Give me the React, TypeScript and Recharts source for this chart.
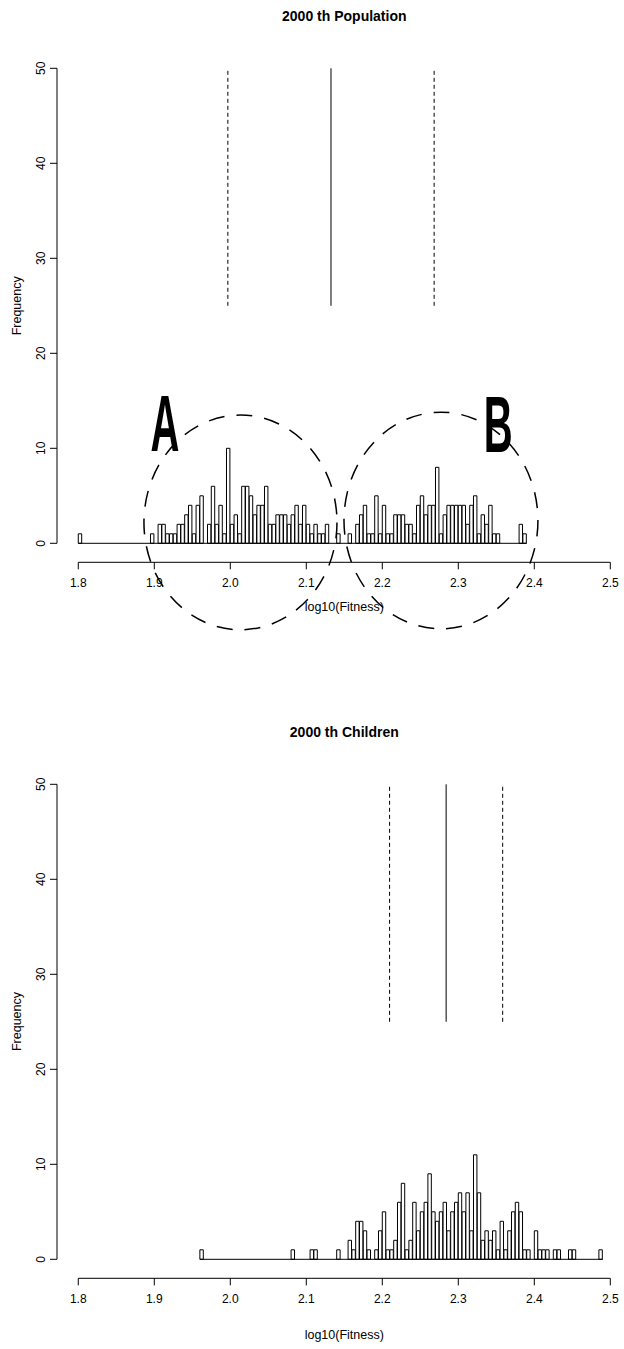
import React from "react";
import { ComposedChart, Bar, XAxis, YAxis, ReferenceLine } from "recharts";

// histogram bins, width 0.005
const binWidth = 0.005;

const popStart = 1.8;
const popCounts = [
  1, 0, 0, 0, 0, 0, 0, 0, 0, 0,
  0, 0, 0, 0, 0, 0, 0, 0, 0, 1,
  0, 2, 2, 1, 1, 1, 2, 2, 3, 4,
  1, 4, 5, 0, 2, 6, 2, 4, 1, 10,
  2, 3, 1, 6, 6, 5, 3, 4, 4, 6,
  2, 2, 3, 3, 3, 2, 3, 4, 2, 4,
  2, 1, 2, 1, 1, 2, 0, 0, 1, 0,
  0, 1, 0, 2, 3, 4, 1, 1, 5, 1,
  4, 1, 1, 3, 3, 3, 2, 2, 1, 4,
  5, 3, 4, 4, 8, 1, 3, 4, 4, 4,
  4, 4, 2, 4, 5, 1, 3, 2, 4, 1,
  1, 0, 0, 0, 0, 0, 2, 1,
];

const childStart = 1.96;
const childCounts = [
  1, 0, 0, 0, 0, 0, 0, 0, 0, 0,
  0, 0, 0, 0, 0, 0, 0, 0, 0, 0,
  0, 0, 0, 0, 1, 0, 0, 0, 0, 1,
  1, 0, 0, 0, 0, 0, 1, 0, 0, 2,
  1, 4, 4, 3, 1, 0, 1, 3, 5, 1,
  1, 2, 6, 8, 1, 2, 6, 3, 5, 6,
  9, 5, 4, 5, 6, 3, 5, 6, 7, 5,
  7, 3, 11, 7, 2, 3, 2, 3, 1, 4,
  1, 3, 5, 6, 5, 1, 1, 0, 3, 1,
  1, 1, 0, 1, 1, 0, 0, 1, 1, 0,
  0, 0, 0, 0, 0, 1,
];

// mean and +-1 sd markers
const popMean = 2.1325;
const popSd = 0.1357;
const childMean = 2.284;
const childSd = 0.0744;

const xTicks = [1.8, 1.9, 2.0, 2.1, 2.2, 2.3, 2.4, 2.5];
const yTicks = [0, 10, 20, 30, 40, 50];

// layout
const W = 624;
const XMIN = 1.772;
const XMAX = 2.5;
const YMIN = -2;
const YMAX = 52;
const PLOT_L = 57;
const PLOT_R = 610.3;
const PLOT_T = 49.3;
const PLOT_B = 562.3;
const PANEL2_TOP = 715.7;
const FONT = "'Liberation Sans Narrow', 'Arial Narrow', 'Liberation Sans', Arial, sans-serif";

const pxX = (v: number) => PLOT_L + ((v - XMIN) / (XMAX - XMIN)) * (PLOT_R - PLOT_L);
const pxY = (v: number) => PLOT_B - ((v - YMIN) / (YMAX - YMIN)) * (PLOT_B - PLOT_T);
const binPx = (binWidth / (XMAX - XMIN)) * (PLOT_R - PLOT_L);

const toBins = (start: number, counts: number[]) =>
  counts.map((n, i) => ({ x: start + (i + 0.5) * binWidth, n }));

const XTick = (props: any) => {
  const { x, y, payload } = props;
  return (
    <text x={x} y={y} dy={16} textAnchor="middle" fontFamily={FONT} fontSize={12} fill="#000">
      {Number(payload.value).toFixed(1)}
    </text>
  );
};

const YTick = (props: any) => {
  const { y, payload } = props;
  const bx = 45;
  return (
    <text x={bx} y={y} textAnchor="middle" fontFamily={FONT} fontSize={12} fill="#000"
      transform={`rotate(-90, ${bx}, ${y})`}>
      {payload.value}
    </text>
  );
};

function Hist({ start, counts, mean, sd, height }: { start: number; counts: number[]; mean: number; sd: number; height: number }) {
  const data = toBins(start, counts);
  const end = start + counts.length * binWidth;
  return (
    <ComposedChart
      width={W}
      height={height}
      data={data}
      margin={{ top: PLOT_T, right: W - PLOT_R, bottom: height - PLOT_B - 30, left: PLOT_L - 40 }}
    >
      <XAxis
        dataKey="x"
        type="number"
        domain={[XMIN, XMAX]}
        allowDataOverflow
        ticks={xTicks}
        interval={0}
        height={30}
        axisLine={false}
        tickSize={7}
        tickMargin={2}
        tickLine={{ stroke: "#000" }}
        tick={<XTick />}
      />
      <YAxis
        type="number"
        domain={[YMIN, YMAX]}
        allowDataOverflow
        ticks={yTicks}
        interval={0}
        width={40}
        axisLine={false}
        tickSize={7}
        tickMargin={2}
        tickLine={{ stroke: "#000" }}
        tick={<YTick />}
      />
      <ReferenceLine segment={[{ x: XMIN, y: 0 }, { x: XMIN, y: 50 }]} stroke="#000" ifOverflow="visible" />
      <ReferenceLine segment={[{ x: xTicks[0], y: YMIN }, { x: xTicks[xTicks.length - 1], y: YMIN }]} stroke="#000" ifOverflow="visible" />
      <ReferenceLine segment={[{ x: start, y: 0 }, { x: end, y: 0 }]} stroke="#000" ifOverflow="visible" />
      <Bar dataKey="n" fill="#fff" stroke="#000" strokeWidth={1} barSize={binPx} isAnimationActive={false} />
      <ReferenceLine segment={[{ x: mean - sd, y: 25 }, { x: mean - sd, y: 50 }]} stroke="#000" strokeDasharray="4 3" ifOverflow="visible" />
      <ReferenceLine segment={[{ x: mean, y: 25 }, { x: mean, y: 50 }]} stroke="#000" ifOverflow="visible" />
      <ReferenceLine segment={[{ x: mean + sd, y: 25 }, { x: mean + sd, y: 50 }]} stroke="#000" strokeDasharray="4 3" ifOverflow="visible" />
    </ComposedChart>
  );
}

function PanelText({ top, title, xlabY }: { top: number; title: string; xlabY: number }) {
  const cx = pxX((xTicks[0] + xTicks[xTicks.length - 1]) / 2);
  return (
    <g transform={`translate(0, ${top})`} fontFamily={FONT} fill="#000">
      <text x={cx} y={21} textAnchor="middle" fontWeight="bold" fontSize={14}>{title}</text>
      <text x={cx} y={xlabY} textAnchor="middle" fontSize={12.5}>log10(Fitness)</text>
      <text x={21} y={pxY(25)} textAnchor="middle" fontSize={12.5}
        transform={`rotate(-90, 21, ${pxY(25)})`}>Frequency</text>
    </g>
  );
}

// annotation: the two groups in the population histogram
const groupA = { cx: 2.0134, cy: 2.2, rx: 0.127, ry: 11.3 };
const groupB = { cx: 2.2772, cy: 2.4, rx: 0.1276, ry: 11.4 };

function Group({ g, label, lx, ly }: { g: typeof groupA; label: string; lx: number; ly: number }) {
  const cx = pxX(g.cx);
  const cy = pxY(g.cy);
  const rx = pxX(g.cx + g.rx) - cx;
  const ry = cy - pxY(g.cy + g.ry);
  const tx = pxX(lx);
  const ty = pxY(ly);
  return (
    <g>
      <ellipse cx={cx} cy={cy} rx={rx} ry={ry} fill="none" stroke="#000" strokeWidth={1.5} strokeDasharray="16 12" />
      <text x={tx} y={ty} textAnchor="middle" fontFamily="'Liberation Sans', Arial, sans-serif" fontWeight="bold"
        fontSize={80} transform={`translate(${tx}, ${ty}) scale(0.5, 1) translate(${-tx}, ${-ty})`}>
        {label}
      </text>
    </g>
  );
}

export default function App() {
  return (
    <div style={{ position: "absolute", left: 0, top: 0, width: W, height: 1349, background: "#fff" }}>
      <div style={{ position: "absolute", left: 0, top: 0 }}>
        <Hist start={popStart} counts={popCounts} mean={popMean} sd={popSd} height={715} />
      </div>
      <div style={{ position: "absolute", left: 0, top: PANEL2_TOP }}>
        <Hist start={childStart} counts={childCounts} mean={childMean} sd={childSd} height={633} />
      </div>
      <svg width={W} height={1349} style={{ position: "absolute", left: 0, top: 0, pointerEvents: "none" }}>
        <PanelText top={0} title="2000 th Population" xlabY={611} />
        <PanelText top={PANEL2_TOP} title="2000 th Children" xlabY={623} />
        <Group g={groupA} label="A" lx={1.914} ly={9.7} />
        <Group g={groupB} label="B" lx={2.3525} ly={9.6} />
      </svg>
    </div>
  );
}
